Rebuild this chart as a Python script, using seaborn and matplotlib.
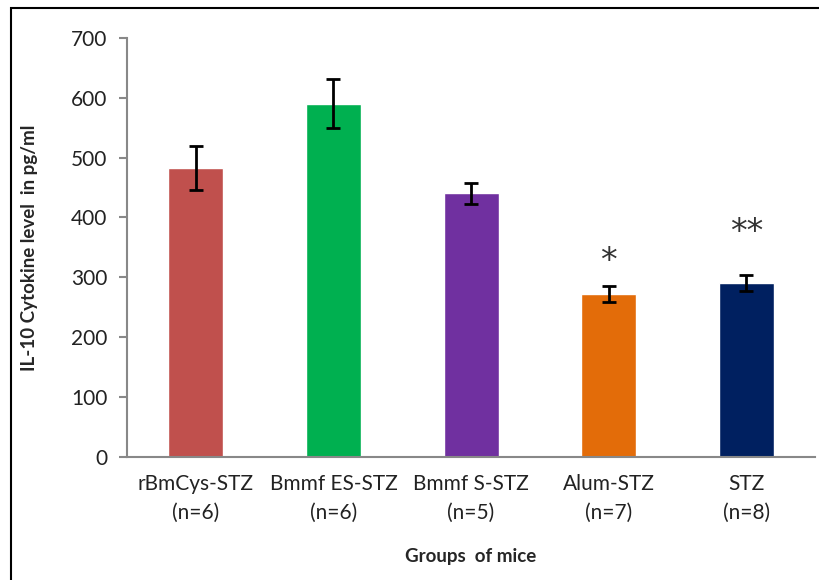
import numpy as np
import pandas as pd
import matplotlib.pyplot as plt
import seaborn as sns
from matplotlib.patches import Rectangle

grupos = ["rBmCys-STZ\n(n=6)", "Bmmf ES-STZ\n(n=6)", "Bmmf S-STZ\n(n=5)",
          "Alum-STZ\n(n=7)", "STZ\n(n=8)"]
il10 = [483, 590, 440, 272, 291]
errores = [37, 41, 17, 14, 13]
asteriscos = ["", "", "", "*", "**"]
colores = ["#C0504D", "#00B050", "#7030A0", "#E36C09", "#002060"]

df = pd.DataFrame({"grupo": grupos, "il10": il10})

sns.set_style("white")
plt.rcParams["font.family"] = ["Lato", "DejaVu Sans"]

fig = plt.figure(figsize=(8.2, 5.8), dpi=100)
ax = fig.add_axes([0.155, 0.212, 0.839, 0.723])

sns.barplot(data=df, x="grupo", y="il10", hue="grupo", palette=colores,
            width=0.4, legend=False, ax=ax, saturation=1)
ax.errorbar(np.arange(len(grupos)), il10, yerr=errores, fmt="none",
            ecolor="black", elinewidth=2, capsize=5, capthick=2)

# asteriscos de significancia, el doble va un poco mas arriba
for i, s in enumerate(asteriscos):
    if s:
        extra = 40 + 30 * (len(s) - 1)
        ax.text(i, il10[i] + errores[i] + extra, s, ha="center", va="center",
                fontsize=24, color="#333333", family="DejaVu Sans")

ax.set_ylim(0, 700)
ax.set_xlim(-0.5, len(grupos) - 0.5)
ax.set_yticks(range(0, 701, 100))
ax.set_xticks(np.arange(-0.5, len(grupos), 1), minor=True)
ax.tick_params(axis="x", which="major", length=0, labelsize=15, pad=12)
ax.tick_params(axis="x", which="minor", length=6, width=1.5, color="#888888", direction="out")
ax.tick_params(axis="y", length=6, width=1.5, color="#888888", labelsize=15,
               direction="out", left=True, pad=8)
for lab in ax.get_xticklabels():
    lab.set_linespacing(1.55)
for lab in ax.get_xticklabels() + ax.get_yticklabels():
    lab.set_color("#222222")

for lado in ["top", "right"]:
    ax.spines[lado].set_visible(False)
for lado in ["left", "bottom"]:
    ax.spines[lado].set_color("#888888")
    ax.spines[lado].set_linewidth(1.5)

ax.set_xlabel("Groups  of mice", fontsize=13.5, fontweight="bold", labelpad=18)
ax.set_ylabel("IL-10 Cytokine level  in pg/ml", fontsize=13.5, fontweight="bold", labelpad=24)

fig.patches.append(Rectangle((11 / 820, -0.1), 1.2, 1 - 7.5 / 580 + 0.1,
                             transform=fig.transFigure, fill=False,
                             edgecolor="black", linewidth=1.5))

fig.savefig("out.png", dpi=100)
